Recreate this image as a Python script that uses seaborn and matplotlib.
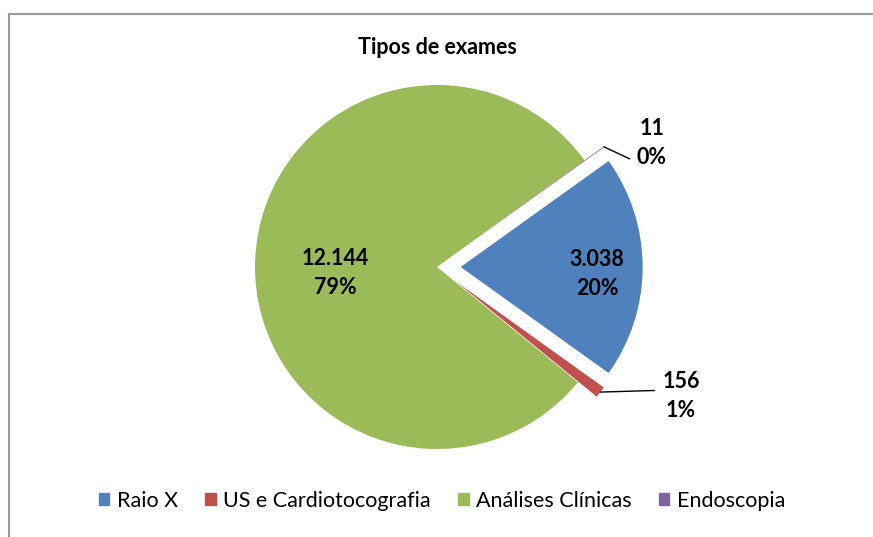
import matplotlib
matplotlib.use("Agg")
import matplotlib.pyplot as plt
import matplotlib.patches as mpatches
import numpy as np
import seaborn as sns

# dados
categorias = ["Raio X", "US e Cardiotocografia", "Análises Clínicas", "Endoscopia"]
valores = [3038, 156, 12144, 11]
cores = ["#4F81BD", "#C0504D", "#9BBB59", "#8064A2"]
titulo = "Tipos de exames"

sns.set_theme(style="white")
plt.rcParams["font.family"] = ["Lato", "DejaVu Sans"]
plt.rcParams["text.color"] = "black"

W, H = 873, 537
fig = plt.figure(figsize=(W / 100, H / 100), dpi=100)

# moldura do gráfico (só topo e esquerda visíveis)
fig.add_artist(plt.Line2D([8.5 / W, 1], [1 - 13.5 / H] * 2, color="#9a9a9a", lw=1.5))
fig.add_artist(plt.Line2D([8.5 / W] * 2, [0, 1 - 13.5 / H], color="#9a9a9a", lw=1.5))

# eixos da pizza: centro (437, 267) px, raio 182 px
cx, cy, R, lim = 437, 267, 182, 1.4
size = 2 * lim * R
ax = fig.add_axes([(cx - size / 2) / W, 1 - (cy + size / 2) / H, size / W, size / H])

total = sum(valores)
explode = [0.13, 0.13, 0, 0.13]
start = 360 * valores[0] / total / 2
wedges, _ = ax.pie(valores, colors=cores, explode=explode, startangle=start,
                   counterclock=False, radius=1,
                   wedgeprops=dict(linewidth=0))
ax.set_xlim(-lim, lim)
ax.set_ylim(-lim, lim)
ax.set_aspect("equal")
ax.axis("off")
for w in wedges:
    w.set_clip_on(False)

def fmt(v):
    return f"{v:,}".replace(",", ".")

def rotulo(v):
    return f"{fmt(v)}\n{round(100 * v / total):.0f}%"

fs_lbl = 15.5
ls = 1.45
for i, w in enumerate(wedges):
    ang = np.deg2rad((w.theta1 + w.theta2) / 2)
    ox, oy = w.center
    if i in (0, 2):
        r, dy = (0.75, -0.04) if i == 0 else (0.56, -0.05)
        ax.text(ox + r * np.cos(ang), oy + r * np.sin(ang) + dy, rotulo(valores[i]),
                ha="center", va="center", fontsize=fs_lbl, fontweight="bold",
                linespacing=ls)
    else:
        tip = (ox + np.cos(ang), oy + np.sin(ang))
        if i == 1:
            txt, rel = (1.34, -0.71), (0.0, 0.62)
        else:
            txt, rel = (1.18, 0.68), (0.0, 0.12)
        ax.annotate(rotulo(valores[i]), xy=tip, xytext=txt, ha="center", va="center",
                    fontsize=fs_lbl, fontweight="bold", linespacing=ls,
                    annotation_clip=False,
                    arrowprops=dict(arrowstyle="-", color="black", lw=1,
                                    relpos=rel, shrinkA=3, shrinkB=0))

fig.text(cx / W, 1 - 47 / H, titulo, ha="center", va="center",
         fontsize=15.5, fontweight="bold")

handles = [mpatches.Patch(color=c, label=l) for c, l in zip(cores, categorias)]
fig.legend(handles=handles, loc="center", bbox_to_anchor=(442 / W, 1 - 501 / H),
           ncol=4, frameon=False, fontsize=15.5, handlelength=0.5, handleheight=0.5,
           handletextpad=0.35, columnspacing=1.25, labelcolor="black")

fig.savefig("out.png", dpi=100)
